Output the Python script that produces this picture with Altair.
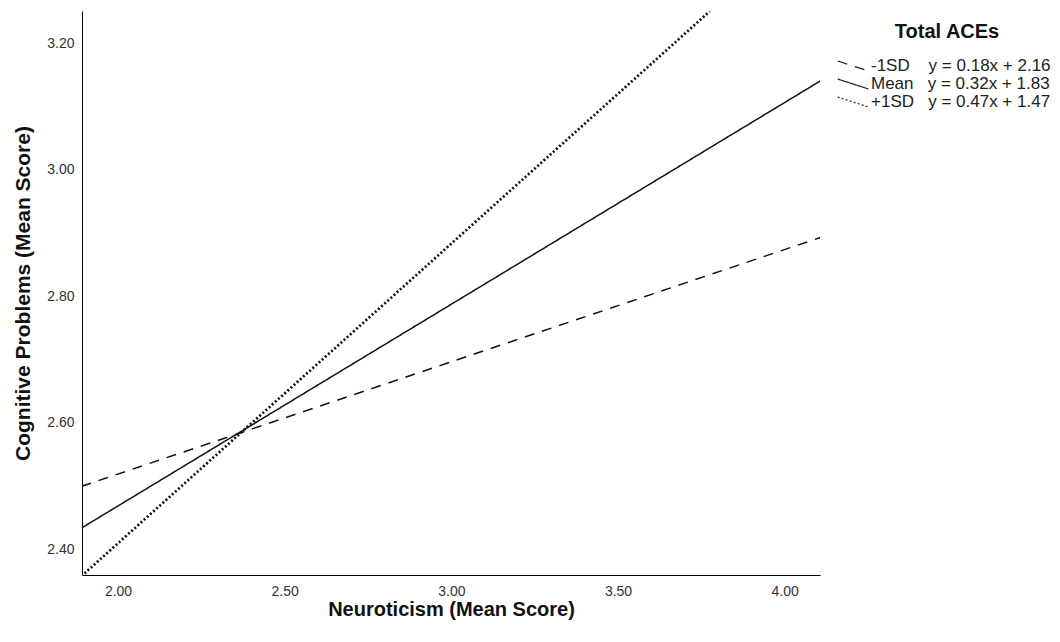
import altair as alt
import pandas as pd

# Values
series = ["-1SD", "Mean", "+1SD"]
equations = ["y = 0.18x + 2.16", "y = 0.32x + 1.83", "y = 0.47x + 1.47"]
x_start = [1.89, 1.89, 1.89]
x_end = [4.11, 4.11, 3.775]
y_start = [2.499, 2.433, 2.357]
y_end = [2.893, 3.141, 3.250]

x_ticks = [2.0, 2.5, 3.0, 3.5, 4.0]
y_ticks = [2.4, 2.6, 2.8, 3.0, 3.2]
x_domain = [1.892, 4.106]
y_domain = [2.3589, 3.2506]

NB = "\u00a0"
gaps = [4, 3, 3]
labels = [s + NB * g + e for s, g, e in zip(series, gaps, equations)]

rows = []
for lab, xs, xe, ys, ye in zip(labels, x_start, x_end, y_start, y_end):
    rows.append({"series": lab, "x": xs, "y": ys, "o": 0})
    rows.append({"series": lab, "x": xe, "y": ye, "o": 1})
df = pd.DataFrame(rows)

FONT = "Liberation Sans"

chart = (
    alt.Chart(df)
    .mark_line(clip=True, color="#111")
    .encode(
        x=alt.X(
            "x:Q",
            scale=alt.Scale(domain=x_domain, nice=False, zero=False),
            axis=alt.Axis(
                title="Neuroticism (Mean Score)",
                values=x_ticks,
                format=".2f",
                ticks=False,
                grid=False,
                labelPadding=9,
                titlePadding=1,
            ),
        ),
        y=alt.Y(
            "y:Q",
            scale=alt.Scale(domain=y_domain, nice=False, zero=False),
            axis=alt.Axis(
                title="Cognitive Problems (Mean Score)",
                values=y_ticks,
                format=".2f",
                ticks=False,
                grid=False,
                labelPadding=8,
                titlePadding=13,
                titleFontSize=21,
            ),
        ),
        strokeDash=alt.StrokeDash(
            "series:N",
            scale=alt.Scale(domain=labels, range=[[10, 8], [1, 0], [2, 2.2]]),
            legend=alt.Legend(
                title="Total ACEs",
                orient="none",
                legendX=761,
                legendY=11,
                symbolType="M-1.7,-0.55L1.7,0.55",
                symbolSize=324,
                symbolStrokeColor="#222",
                symbolStrokeWidth=1.2,
                labelFont=FONT,
                labelFontSize=17,
                labelColor="#222",
                labelOffset=8,
                labelLimit=400,
                titleFont=FONT,
                titleFontSize=20,
                titleFontWeight="bold",
                titleColor="#111",
                titleAnchor="middle",
                titlePadding=14,
                titleLimit=400,
                rowPadding=0,
            ),
        ),
        strokeWidth=alt.condition(
            alt.datum.series == labels[2], alt.value(2.7), alt.value(1.5)
        ),
        order="o:Q",
    )
    .properties(
        width=738,
        height=564,
        autosize=alt.AutoSizeParams(type="none"),
        padding={"left": 74, "top": 3, "right": 232, "bottom": 50},
    )
    .configure_view(stroke=None)
    .configure_axis(
        domainColor="#000",
        domainWidth=1,
        labelFont=FONT,
        labelFontSize=14,
        labelColor="#333",
        titleFont=FONT,
        titleFontSize=20,
        titleFontWeight="bold",
        titleColor="#111",
    )
)

chart.save("out.html", embed_options={"renderer": "svg", "actions": False})
